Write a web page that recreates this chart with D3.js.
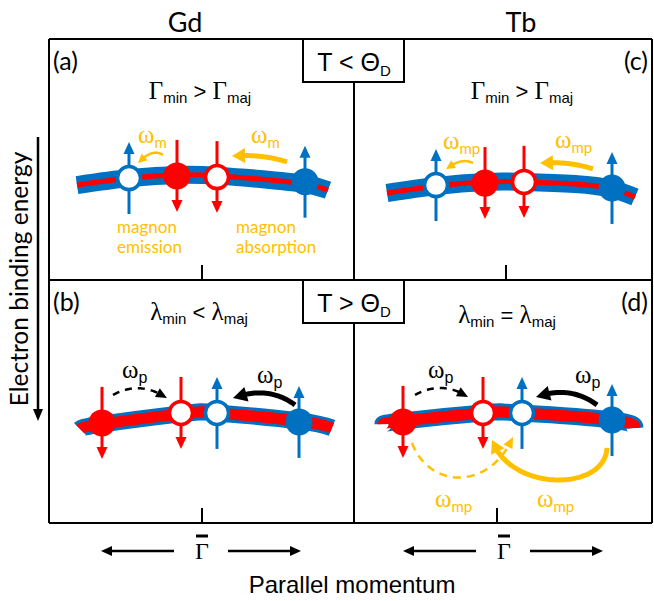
<!DOCTYPE html>
<html>
<head>
<meta charset="utf-8">
<script src="https://cdn.jsdelivr.net/npm/d3@7"></script>
<style>
  body { margin: 0; background: #fff; }
  text { white-space: pre; }
</style>
</head>
<body>
<svg id="fig"></svg>
<script>
// ---- data (momentum k relative to Gamma-bar, energy E as fraction of panel height) ----
const columns = ["Gd", "Tb"];
const regimes = ["T < Θ", "T > Θ"];
const rateSymbols = ["Γ", "Γ", "λ", "λ"];
const relations = [">", ">", "<", "="];
const spinSubs = ["min", "maj"];

const bandA = [[-1.0, .606], [-.576, .577], [-.176, .564], [.144, .568], [.464, .581], [.824, .602], [1.008, .627]];
const bandC = [[-.952, .639], [-.56, .610], [-.168, .593], [.144, .593], [.552, .602], [.848, .622], [1.032, .656]];
const bandB = [[-.976, .613], [-.8, .593], [-.168, .551], [-.016, .543], [.12, .547], [.776, .580], [1.04, .609]];
const bandD = [[-.912, .593], [-.752, .580], [-.112, .547], [.04, .543], [.2, .547], [.92, .576], [1.104, .609]];

const electronsA = [
  { k: -.584, E: .577, spin: "up", state: "hole" },
  { k: -.2, E: .568, spin: "down", state: "filled" },
  { k: .12, E: .573, spin: "down", state: "hole" },
  { k: .824, E: .592, spin: "up", state: "filled" }
];
const electronsC = [
  { k: -.56, E: .606, spin: "up", state: "hole" },
  { k: -.168, E: .598, spin: "down", state: "filled" },
  { k: .144, E: .593, spin: "down", state: "hole" },
  { k: .848, E: .618, spin: "up", state: "filled" }
];
const electronsB = [
  { k: -.8, E: .588, spin: "down", state: "filled" },
  { k: -.168, E: .547, spin: "down", state: "hole" },
  { k: .12, E: .547, spin: "up", state: "hole" },
  { k: .776, E: .584, spin: "up", state: "filled" }
];
const electronsD = [
  { k: -.752, E: .584, spin: "down", state: "filled" },
  { k: -.112, E: .547, spin: "down", state: "hole" },
  { k: .2, E: .547, spin: "up", state: "hole" },
  { k: .92, E: .576, spin: "up", state: "filled" }
];

const arrowsA = [
  { type: "orangeThin", pts: [[-.312, .481], [-.4, .452], [-.512, .515]] },
  { type: "orangeThick", pts: [[.68, .510], [.48, .477], [.24, .485]] }
];
const arrowsC = [
  { type: "orangeThin", pts: [[-.264, .515], [-.352, .490], [-.48, .539]] },
  { type: "orangeThick", pts: [[.696, .539], [.496, .506], [.272, .515]] }
];
const arrowsB = [
  { type: "blackDashed", pts: [[-.712, .473], [-.496, .412], [-.28, .486]] },
  { type: "blackThick", pts: [[.744, .514], [.528, .432], [.248, .486]] }
];
const arrowsD = [
  { type: "blackDashed", pts: [[-.656, .473], [-.44, .412], [-.232, .481]] },
  { type: "blackThick", pts: [[.8, .514], [.584, .432], [.312, .481]] },
  { type: "orangeDashed", pts: [[-.68, .671], [-.536, .864], [-.056, .864], [.128, .646]] },
  { type: "orangeThick", pts: [[.88, .691], [.864, .872], [.104, .872], [-.04, .658]] }
];

const labelsA = [{ k: -.512, E: .432, sub: "m", kind: "magnon" }, { k: .392, E: .432, sub: "m", kind: "magnon" }];
const labelsC = [{ k: -.504, E: .456, sub: "mp", kind: "magnon" }, { k: .392, E: .452, sub: "mp", kind: "magnon" }];
const labelsB = [{ k: -.64, E: .403, sub: "p", kind: "phonon" }, { k: .44, E: .424, sub: "p", kind: "phonon" }];
const labelsD = [
  { k: -.552, E: .403, sub: "p", kind: "phonon" }, { k: .624, E: .424, sub: "p", kind: "phonon" },
  { k: -.496, E: .934, sub: "mp", kind: "magnon" }, { k: .32, E: .934, sub: "mp", kind: "magnon" }
];
const notesA = [{ k: -.68, E: .805, lines: ["magnon", "emission"] }, { k: .272, E: .805, lines: ["magnon", "absorption"] }];

// ---- layout ----
const W = 654, H = 601;
const BLUE = "#0070C0", RED = "#FF0000", ORANGE = "#FFC000";
const SERIF = "'Liberation Serif','Times New Roman',serif";
const SANS = "'Liberation Sans',Arial,sans-serif";
const CAL = "Lato,'Open Sans',sans-serif";

const L = 49, R = 652, T = 39, M = 280, B = 523, V = 354;
const colX = [202, 504];

const panels = [
  { letter: "(a)", x0: L, x1: V, y0: T, y1: M, g: 202, tx: 200, ty: 99, row: 0, band: bandA, el: electronsA, arrows: arrowsA, labels: labelsA, notes: notesA, side: "left" },
  { letter: "(c)", x0: V, x1: R, y0: T, y1: M, g: 506, tx: 522, ty: 99, row: 0, band: bandC, el: electronsC, arrows: arrowsC, labels: labelsC, notes: [], side: "right" },
  { letter: "(b)", x0: L, x1: V, y0: M, y1: B, g: 202, tx: 199, ty: 320, row: 1, band: bandB, el: electronsB, arrows: arrowsB, labels: labelsB, notes: [], side: "left" },
  { letter: "(d)", x0: V, x1: R, y0: M, y1: B, g: 497, tx: 507, ty: 323, row: 1, band: bandD, el: electronsD, arrows: arrowsD, labels: labelsD, notes: [], side: "right" }
];

const arrowStyles = {
  orangeThin:   { color: ORANGE, w: 2.5, dash: null, head: 9, hw: 9 },
  orangeThick:  { color: ORANGE, w: 5, dash: null, head: 13, hw: 15 },
  orangeDashed: { color: ORANGE, w: 2.5, dash: "8,6", head: 11, hw: 10 },
  blackDashed:  { color: "#000", w: 2.5, dash: "7,6", head: 11, hw: 10 },
  blackThick:   { color: "#000", w: 5, dash: null, head: 14, hw: 15 }
};

const svg = d3.select("#fig").attr("width", W).attr("height", H)
  .style("font-family", SANS);

function rich(g, x, y, parts, anchor, color) {
  const t = g.append("text").attr("x", x).attr("y", y)
    .attr("text-anchor", anchor || "middle").attr("fill", color || "#000");
  let shift = 0;
  parts.forEach(p => {
    const dy = (p.dy || 0) - shift;
    shift = p.dy || 0;
    t.append("tspan").attr("dy", dy).style("font-family", p.f).style("font-size", p.s + "px").text(p.t);
  });
  return t;
}

function head(g, tip, from, len, wid, color) {
  const dx = tip[0] - from[0], dy = tip[1] - from[1];
  const d = Math.hypot(dx, dy), ux = dx / d, uy = dy / d;
  const bx = tip[0] - ux * len, by = tip[1] - uy * len;
  g.append("polygon")
    .attr("points", [tip, [bx - uy * wid / 2, by + ux * wid / 2], [bx + uy * wid / 2, by - ux * wid / 2]].map(p => p.join(",")).join(" "))
    .attr("fill", color);
}

function curveArrow(g, pts, st) {
  const p = d3.path();
  p.moveTo(pts[0][0], pts[0][1]);
  if (pts.length === 3) p.quadraticCurveTo(pts[1][0], pts[1][1], pts[2][0], pts[2][1]);
  else p.bezierCurveTo(pts[1][0], pts[1][1], pts[2][0], pts[2][1], pts[3][0], pts[3][1]);
  const tmp = g.append("path").attr("d", p.toString()).attr("fill", "none");
  const node = tmp.node();
  const len = node.getTotalLength();
  const cut = len - st.head * 0.7;
  const samples = d3.range(0, 61).map(i => {
    const q = node.getPointAtLength(cut * i / 60);
    return [q.x, q.y];
  });
  const tip = node.getPointAtLength(len), back = node.getPointAtLength(len - st.head);
  tmp.remove();
  g.append("path").attr("d", d3.line()(samples))
    .attr("fill", "none").attr("stroke", st.color).attr("stroke-width", st.w)
    .attr("stroke-dasharray", st.dash);
  head(g, [tip.x, tip.y], [back.x, back.y], st.head, st.hw, st.color);
}

// ---- panels ----
panels.forEach(pn => {
  const x = d3.scaleLinear().domain([-1, 1]).range([pn.g - 125, pn.g + 125]);
  const y = d3.scaleLinear().domain([0, 1]).range([pn.y0, pn.y1]);
  const g = svg.append("g");

  // band
  const line = d3.line().x(d => x(d[0])).y(d => y(d[1])).curve(d3.curveNatural);
  const wBlue = pn.row === 0 ? 18 : 17, wRed = pn.row === 0 ? 5 : 11;
  g.append("path").attr("d", line(pn.band)).attr("fill", "none").attr("stroke", BLUE).attr("stroke-width", wBlue);
  g.append("path").attr("d", line(pn.band)).attr("fill", "none").attr("stroke", RED).attr("stroke-width", wRed);

  // spin arrows
  pn.el.forEach(e => {
    const cx = x(e.k), cy = y(e.E);
    const col = e.spin === "up" ? BLUE : RED;
    const dir = e.spin === "up" ? -1 : 1;
    const tail = cy - dir * 36, tip = cy + dir * 36;
    g.append("line").attr("x1", cx).attr("x2", cx).attr("y1", tail).attr("y2", tip - dir * 8)
      .attr("stroke", col).attr("stroke-width", 3);
    head(g, [cx, tip], [cx, tail], 12, 11, col);
  });
  // electrons / holes
  pn.el.forEach(e => {
    const col = e.spin === "up" ? BLUE : RED;
    const c = g.append("circle").attr("cx", x(e.k)).attr("cy", y(e.E));
    if (e.state === "filled") c.attr("r", 13.5).attr("fill", col);
    else c.attr("r", 11.5).attr("fill", "#fff").attr("stroke", col).attr("stroke-width", 3.5);
  });

  // scattering arrows
  pn.arrows.forEach(a => curveArrow(g, a.pts.map(d => [x(d[0]), y(d[1])]), arrowStyles[a.type]));

  // omega labels
  pn.labels.forEach(l => {
    const orange = l.kind === "magnon";
    rich(g, x(l.k), y(l.E), [
      { t: "ω", f: SERIF, s: 25 },
      { t: l.sub, f: orange ? CAL : SANS, s: orange ? 15 : 16, dy: 5 }
    ], "start", orange ? ORANGE : "#000");
  });

  pn.notes.forEach(n => {
    const t = g.append("text").attr("x", x(n.k)).attr("y", y(n.E))
      .attr("fill", ORANGE).style("font-family", CAL).style("font-size", "17px");
    n.lines.forEach((s, i) => t.append("tspan").attr("x", x(n.k)).attr("dy", i ? 20 : 0).text(s));
  });

  // panel letter
  g.append("text")
    .attr("x", pn.side === "left" ? pn.x0 + 4 : pn.x1 - 4)
    .attr("y", pn.y0 + 31)
    .attr("text-anchor", pn.side === "left" ? "start" : "end")
    .style("font-family", CAL).style("font-size", "25px").text(pn.letter);

  // relation title
  const i = panels.indexOf(pn);
  rich(g, pn.tx, pn.ty, [
    { t: rateSymbols[i], f: SERIF, s: 25 },
    { t: spinSubs[0], f: SANS, s: 15, dy: 4 },
    { t: " " + relations[i] + " ", f: SANS, s: 22 },
    { t: rateSymbols[i], f: SERIF, s: 25 },
    { t: spinSubs[1], f: SANS, s: 15, dy: 4 }
  ], "middle");

  // Gamma-bar tick
  g.append("line").attr("x1", x(0)).attr("x2", x(0)).attr("y1", pn.y1 - 15).attr("y2", pn.y1)
    .attr("stroke", "#000").attr("stroke-width", 2);
});

// ---- frame ----
const fr = svg.append("g").attr("stroke", "#000").attr("stroke-width", 2).attr("fill", "none");
fr.append("line").attr("x1", L).attr("x2", R).attr("y1", T).attr("y2", T);
fr.append("line").attr("x1", L).attr("x2", R).attr("y1", M).attr("y2", M);
fr.append("line").attr("x1", L).attr("x2", R).attr("y1", B).attr("y2", B);
fr.append("line").attr("x1", L).attr("x2", L).attr("y1", T).attr("y2", B);
fr.append("line").attr("x1", R).attr("x2", R).attr("y1", T).attr("y2", B);
fr.append("line").attr("x1", V).attr("x2", V).attr("y1", T + 43).attr("y2", M);
fr.append("line").attr("x1", V).attr("x2", V).attr("y1", M + 43).attr("y2", B);
[T, M].forEach((y0, i) => {
  svg.append("rect").attr("x", 303).attr("y", y0).attr("width", 101).attr("height", 43)
    .attr("fill", "#fff").attr("stroke", "#000").attr("stroke-width", 2);
  rich(svg, V, y0 + 32, [
    { t: regimes[i], f: SANS, s: 25 },
    { t: "D", f: SANS, s: 15, dy: 5 }
  ], "middle");
});

// column headers
columns.forEach((c, i) => {
  svg.append("text").attr("x", [185, 521][i]).attr("y", 32).attr("text-anchor", "middle")
    .style("font-family", CAL).style("font-size", "27px").text(c);
});

// bottom momentum axis
colX.forEach(cx => {
  svg.append("text").attr("x", cx).attr("y", 559).attr("text-anchor", "middle")
    .style("font-family", SERIF).style("font-size", "24px").text("Γ");
  svg.append("line").attr("x1", cx - 6).attr("x2", cx + 6).attr("y1", 536).attr("y2", 536)
    .attr("stroke", "#000").attr("stroke-width", 3);
  [[-28, -101], [26, 99]].forEach(([a, b]) => {
    svg.append("line").attr("x1", cx + a).attr("x2", cx + b - Math.sign(b) * 8).attr("y1", 551).attr("y2", 551)
      .attr("stroke", "#000").attr("stroke-width", 2.5);
    head(svg, [cx + b, 551], [cx + a, 551], 11, 10, "#000");
  });
});
svg.append("text").attr("x", 352).attr("y", 593).attr("text-anchor", "middle")
  .style("font-family", SANS).style("font-size", "24px").text("Parallel momentum");

// energy axis
svg.append("text").attr("transform", "translate(28,279) rotate(-90)").attr("text-anchor", "middle")
  .style("font-family", CAL).style("font-size", "24.5px").text("Electron binding energy");
svg.append("line").attr("x1", 38).attr("x2", 38).attr("y1", 137).attr("y2", 412)
  .attr("stroke", "#000").attr("stroke-width", 2.5);
head(svg, [38, 421], [38, 137], 12, 10, "#000");
</script>
</body>
</html>
